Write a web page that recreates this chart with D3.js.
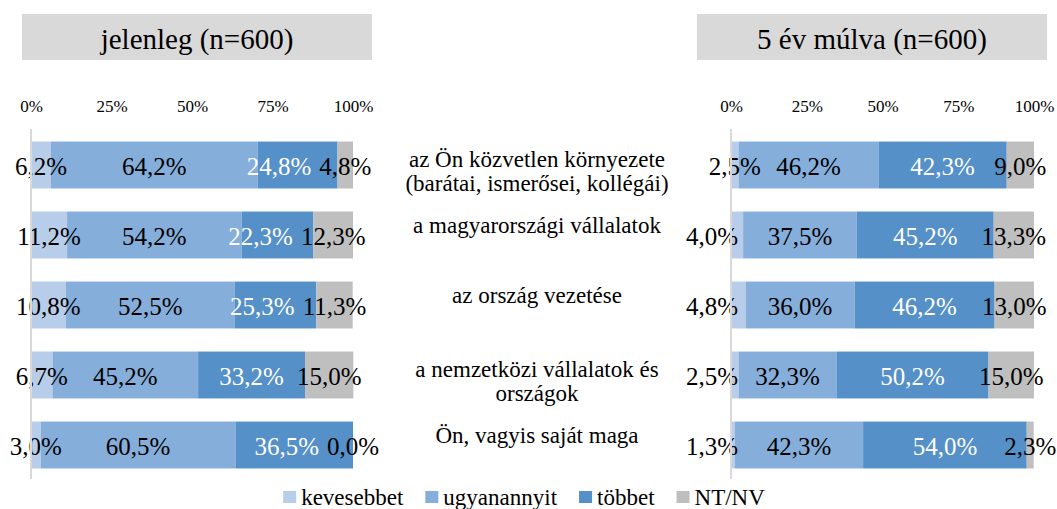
<!DOCTYPE html>
<html>
<head>
<meta charset="utf-8">
<script src="https://cdn.jsdelivr.net/npm/d3@7"></script>
<style>
    body { margin: 0; background: #fff; }
    svg { display: block; font-family: "Liberation Serif", "Times New Roman", serif; }
</style>
</head>
<body>
<svg id="chart" width="1057" height="509"></svg>
<script>
// Categories (shared by both panels), line breaks marked with \n
const categories = [
    "az Ön közvetlen környezete\n(barátai, ismerősei, kollégái)",
    "a magyarországi vállalatok",
    "az ország vezetése",
    "a nemzetközi vállalatok és\nországok",
    "Ön, vagyis saját maga"
];

const seriesNames = ["kevesebbet", "ugyanannyit", "többet", "NT/NV"];
const seriesColors = ["#b7cde9", "#85aedb", "#5590c8", "#bfbfbf"];
const labelColors = ["#000", "#000", "#fff", "#000"];

const tickValues = [0, 25, 50, 75, 100];

// jelenleg (n=600): one row per category, in series order
const nowTitle = "jelenleg (n=600)";
const nowValues = [
    [6.2, 64.2, 24.8, 4.8],
    [11.2, 54.2, 22.3, 12.3],
    [10.8, 52.5, 25.3, 11.3],
    [6.7, 45.2, 33.2, 15.0],
    [3.0, 60.5, 36.5, 0.0]
];

// 5 év múlva (n=600)
const futureTitle = "5 év múlva (n=600)";
const futureValues = [
    [2.5, 46.2, 42.3, 9.0],
    [4.0, 37.5, 45.2, 13.3],
    [4.8, 36.0, 46.2, 13.0],
    [2.5, 32.3, 50.2, 15.0],
    [1.3, 42.3, 54.0, 2.3]
];

const svg = d3.select("#chart");

const y = d3.scaleBand()
    .domain(d3.range(categories.length))
    .range([130, 480])
    .paddingInner(0.33)
    .paddingOuter(0.165);

const fmt = v => d3.format(".1f")(v).replace(".", ",") + "%";

function drawPanel(title, values, plotLeft, plotRight, boxLeft, boxRight) {
    const x = d3.scaleLinear().domain([0, 100]).range([plotLeft, plotRight]);
    const panel = svg.append("g");

    // title box
    panel.append("rect")
        .attr("x", boxLeft).attr("y", 14)
        .attr("width", boxRight - boxLeft).attr("height", 46)
        .attr("fill", "#d9d9d9");
    panel.append("text")
        .attr("x", (boxLeft + boxRight) / 2).attr("y", 49)
        .attr("text-anchor", "middle")
        .attr("font-size", 29)
        .attr("fill", "#000")
        .text(title);

    // percentage axis on top
    const axis = panel.append("g")
        .attr("transform", "translate(0,116)")
        .call(d3.axisTop(x).tickValues(tickValues).tickSize(0).tickPadding(4)
            .tickFormat(d => d + "%"));
    axis.select(".domain").remove();
    axis.selectAll("text")
        .attr("font-family", "Liberation Serif, Times New Roman, serif")
        .attr("font-size", 17)
        .attr("fill", "#000");

    // bars
    values.forEach((row, r) => {
        let acc = 0;
        const segs = row.map((v, i) => {
            const s = { start: acc, end: acc + v, value: v, i };
            acc += v;
            return s;
        });

        panel.append("g").selectAll("rect")
            .data(segs)
            .enter().append("rect")
            .attr("x", d => x(d.start))
            .attr("y", y(r))
            .attr("width", d => x(d.end) - x(d.start))
            .attr("height", y.bandwidth())
            .attr("fill", d => seriesColors[d.i]);

        const g = panel.append("g");
        const labels = segs.map(s => {
            const t = g.append("text")
                .attr("y", y(r) + y.bandwidth() / 2 + 10)
                .attr("text-anchor", "middle")
                .attr("font-size", 25)
                .attr("fill", labelColors[s.i])
                .text(fmt(s.value));
            return { node: t, cx: x((s.start + s.end) / 2), w: t.node().getComputedTextLength() };
        });

        // push crowded labels to the left
        for (let i = labels.length - 2; i >= 0; i--) {
            const a = labels[i], b = labels[i + 1];
            const gap = (b.cx - b.w / 2) - (a.cx + a.w / 2);
            if (gap < 10) {
                if (i === 0) a.cx = x(0) + 7 - a.w / 2;
                else a.cx = b.cx - b.w / 2 - 8 - a.w / 2;
            }
        }
        labels.forEach(l => l.node.attr("x", l.cx));
    });

    // vertical axis line
    panel.append("line")
        .attr("x1", x(0)).attr("x2", x(0))
        .attr("y1", y.range()[0] - 1).attr("y2", y.range()[1] - 1)
        .attr("stroke", "#d9d9d9")
        .attr("stroke-width", 2);
}

drawPanel(nowTitle, nowValues, 31, 353, 22, 372);
drawPanel(futureTitle, futureValues, 731, 1034, 697, 1047);

// category labels in the middle
const catGroup = svg.append("g");
categories.forEach((c, r) => {
    const lines = c.split("\n");
    const cy = y(r) + y.bandwidth() / 2;
    const t = catGroup.append("text")
        .attr("text-anchor", "middle")
        .attr("font-size", 23)
        .attr("fill", "#000");
    lines.forEach((ln, k) => {
        t.append("tspan")
            .attr("x", 537)
            .attr("y", cy - 2 + (lines.length - 1) * 4 + k * 24)
            .text(ln);
    });
});

// legend
const legend = svg.append("g");
let lx = 0;
const items = seriesNames.map((name, i) => {
    const item = legend.append("g").attr("transform", `translate(${lx},0)`);
    item.append("rect")
        .attr("x", 0).attr("y", 491)
        .attr("width", 13).attr("height", 12)
        .attr("fill", seriesColors[i]);
    const t = item.append("text")
        .attr("x", 18).attr("y", 505)
        .attr("font-size", 23)
        .attr("fill", "#000")
        .text(name);
    lx += 18 + t.node().getComputedTextLength() + 22;
    return item;
});
const legendWidth = lx - 22;
legend.attr("transform", `translate(${524 - legendWidth / 2},0)`);
</script>
</body>
</html>
